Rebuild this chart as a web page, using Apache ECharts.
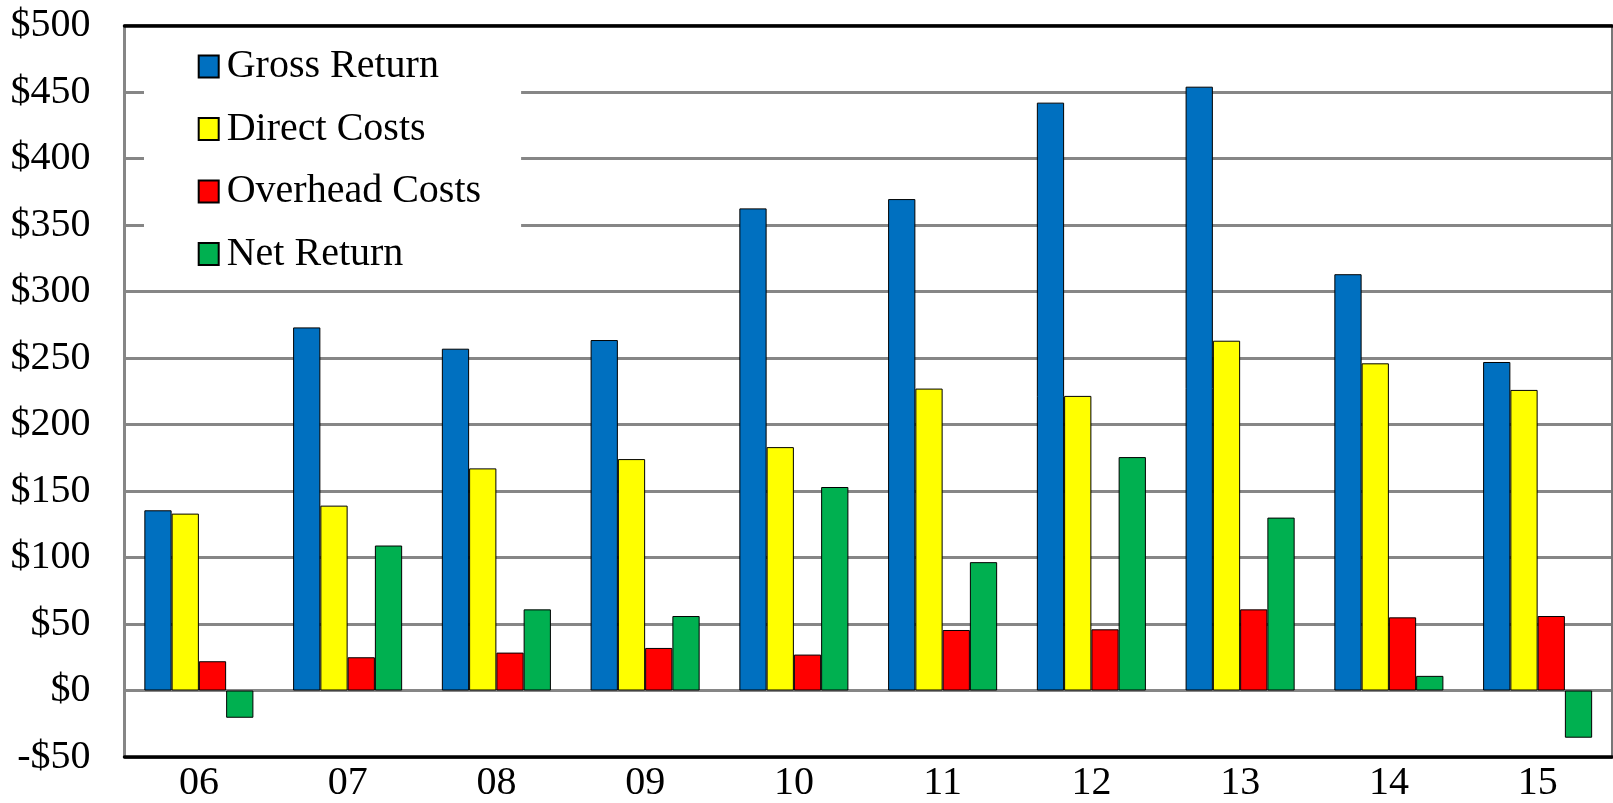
<!DOCTYPE html>
<html>
<head>
<meta charset="utf-8">
<script src="https://cdn.jsdelivr.net/npm/echarts@6/dist/echarts.min.js"></script>
<style>
html,body{margin:0;padding:0;background:#fff;}
#chart{width:1613px;height:803px;}
</style>
</head>
<body>
<div id="chart"></div>
<script>
const categories = ['06','07','08','09','10','11','12','13','14','15'];
const grossReturn = [135.5, 273, 257, 263.5, 362.5, 369.5, 442, 454, 313, 247];
const directCosts = [133, 139, 167, 174, 183, 227, 221.5, 263, 246, 226];
const overheadCosts = [22, 25, 28.5, 32, 27, 45.5, 46, 61, 55, 56];
const netReturn = [-20.5, 109, 61, 56, 153, 96.5, 175.5, 130, 11, -35.5];
const seriesNames = ['Gross Return','Direct Costs','Overhead Costs','Net Return'];
const seriesColors = ['#0070C0','#FFFF00','#FF0000','#00B050'];
const yMin = -50, yMax = 500, yStep = 50;

const FONT = '"Liberation Serif", "Times New Roman", serif';
const chart = echarts.init(document.getElementById('chart'), null, {renderer:'canvas'});
const dataSets = [grossReturn, directCosts, overheadCosts, netReturn];

const option = {
  animation: false,
  backgroundColor: '#fff',
  grid: {left: 124.5, right: 1, top: 25.5, bottom: 42.4, containLabel: false},
  legend: {
    orient: 'vertical',
    left: 144, top: 28,
    backgroundColor: '#fff',
    padding: [18.5, 40, 14, 53.7],
    itemWidth: 20, itemHeight: 22,
    itemGap: 22.5,
    icon: 'rect',
    textStyle: {fontFamily: FONT, fontSize: 40, color: '#000', lineHeight: 40, padding: [0,0,0,3]},
    data: seriesNames,
    z: 10
  },
  xAxis: [
    {
      type: 'category', data: categories, position: 'bottom',
      axisLine: {onZero: false, lineStyle: {color: '#000', width: 3.5}},
      axisTick: {show: false},
      axisLabel: {fontFamily: FONT, fontSize: 40, color: '#000', margin: 6},
      splitLine: {show: false}
    },
    {
      type: 'category', data: categories, position: 'top',
      axisLine: {onZero: false, lineStyle: {color: '#000', width: 3.5}},
      axisTick: {show: false}, axisLabel: {show: false}, splitLine: {show: false}
    }
  ],
  yAxis: [
    {
      type: 'value', min: yMin, max: yMax, interval: yStep, position: 'left',
      axisLine: {show: true, lineStyle: {color: '#868686', width: 3}},
      axisTick: {show: false},
      axisLabel: {
        fontFamily: FONT, fontSize: 40, color: '#000', margin: 34,
        formatter: v => (v < 0 ? '-$' + Math.abs(v) : '$' + v)
      },
      splitLine: {show: true, lineStyle: {color: '#868686', width: 3}}
    },
    {
      type: 'value', min: yMin, max: yMax, interval: yStep, position: 'right',
      axisLine: {show: true, lineStyle: {color: '#777', width: 2}},
      axisTick: {show: false}, axisLabel: {show: false}, splitLine: {show: false}
    }
  ],
  series: seriesNames.map((name, i) => ({
    name: name,
    type: 'bar',
    data: dataSets[i],
    barGap: '0%',
    barCategoryGap: '26.7%',
    itemStyle: {color: seriesColors[i], borderColor: '#000', borderWidth: 1},
    z: 2
  }))
};
chart.setOption(option);
</script>
</body>
</html>
